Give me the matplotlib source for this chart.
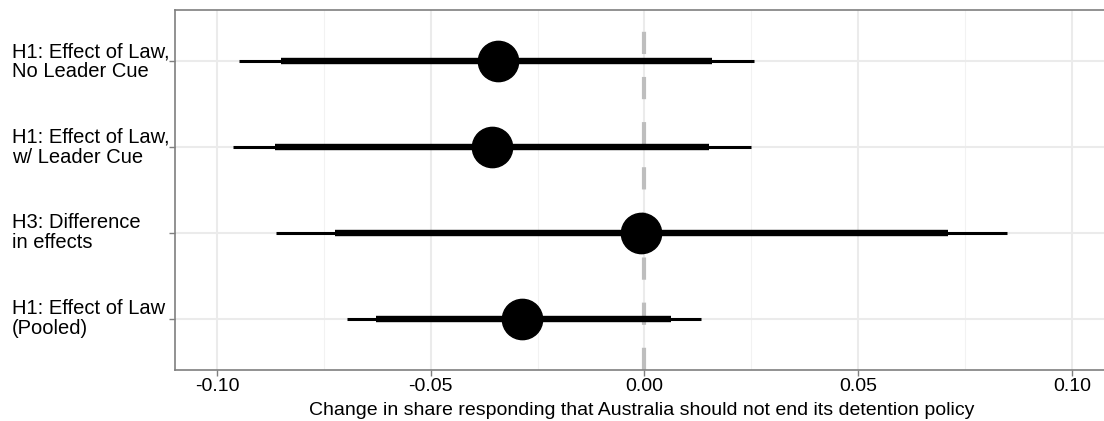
import matplotlib.pyplot as plt
import matplotlib.transforms as mtransforms

plt.rcParams['font.family'] = ['Liberation Sans', 'DejaVu Sans']
plt.rcParams['lines.scale_dashes'] = False

# estimates with 90% (thin) and 80% (thick) intervals, top row first
labels = ["H1: Effect of Law,\nNo Leader Cue",
          "H1: Effect of Law,\nw/ Leader Cue",
          "H3: Difference\nin effects",
          "H1: Effect of Law\n(Pooled)"]
estimate = [-0.0343, -0.0357, -0.0007, -0.0287]
lo_outer = [-0.0949, -0.0963, -0.0862, -0.0696]
hi_outer = [0.0255, 0.0248, 0.0848, 0.0131]
lo_inner = [-0.0850, -0.0864, -0.0724, -0.0628]
hi_inner = [0.0159, 0.0152, 0.0710, 0.0063]
xticks = [-0.10, -0.05, 0.00, 0.05, 0.10]
xtick_labels = ["-0.10", "-0.05", "0.00", "0.05", "0.10"]
minor_ticks = [-0.075, -0.025, 0.025, 0.075]

fig = plt.figure(figsize=(11.04, 4.21), dpi=100)
ax = fig.add_axes([175/1104, 51/421, (1108-175)/1104, 360/421])

ypos = [len(labels) - i for i in range(len(labels))]

ax.set_xlim(-0.1098, 0.1084)
ax.set_ylim(0.4, len(labels) + 0.6)

# grid
for x in xticks:
    ax.axvline(x, color="#ebebeb", lw=1.5, zorder=0)
for x in minor_ticks:
    ax.axvline(x, color="#f2f2f2", lw=0.8, zorder=0)
for y in ypos:
    ax.axhline(y, color="#ebebeb", lw=1.5, zorder=0)

# reference line at zero
ax.plot([0, 0], [0.4, len(labels) + 0.6], color="#bebebe", lw=3,
        dashes=(16, 16.5), zorder=1, solid_capstyle="butt")

for y, e, lo, hi, li, hii in zip(ypos, estimate, lo_outer, hi_outer, lo_inner, hi_inner):
    ax.plot([lo, hi], [y, y], color="black", lw=2.2, solid_capstyle="butt", zorder=2)
    ax.plot([li, hii], [y, y], color="black", lw=4.6, solid_capstyle="butt", zorder=3)
    ax.plot([e], [y], "o", color="black", markersize=29, zorder=4)

ax.set_xticks(xticks)
ax.set_xticklabels(xtick_labels, fontsize=14, color="black")
ax.set_yticks(ypos)
ax.set_yticklabels([])
ax.tick_params(axis="both", length=4, width=1, color="#7f7f7f", pad=2)

trans = mtransforms.blended_transform_factory(fig.transFigure, ax.transData)
for y, lab in zip(ypos, labels):
    ax.text(12/1104, y, lab, transform=trans, ha="left", va="center",
            fontsize=14.5, linespacing=1.05, color="black")

for s in ax.spines.values():
    s.set_color("#7f7f7f")
    s.set_linewidth(1.2)

ax.set_xlabel("Change in share responding that Australia should not end its detention policy",
              fontsize=14, labelpad=5)

fig.savefig("out.png", dpi=100)
